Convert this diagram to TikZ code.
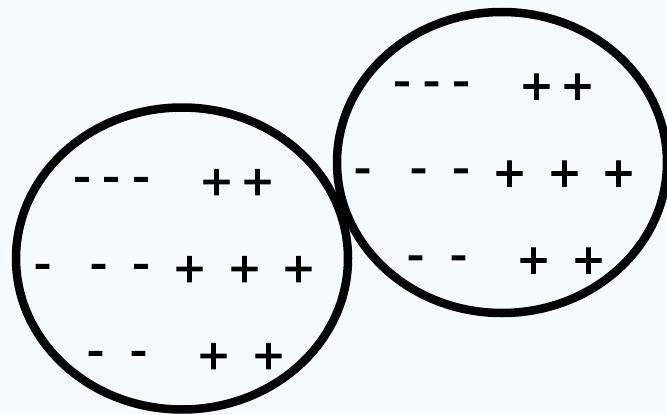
\documentclass[tikz,border=0pt]{standalone}
\usepackage{fontspec}
\setmainfont{Liberation Sans}
\newfontfamily\chargefont[FakeBold=2]{Liberation Sans}
\definecolor{bgblue}{RGB}{247,250,255}
\tikzset{
  charge/.style={inner sep=0pt, outer sep=0pt, anchor=base, font=\chargefont\fontsize{52}{56}\selectfont},
  plussign/.style={charge, yshift=-18.4pt},
  minussign/.style={charge, yshift=-12.2pt},
  blob/.style={draw=black, line width=8.5pt}
}
\begin{document}
\begin{tikzpicture}[x=1pt,y=-1pt]
\useasboundingbox (0,0) rectangle (667,415);
\fill[bgblue] (0,0) rectangle (667,415);
% ellipses
\coordinate (cl) at (182,258.5);
\coordinate (cr) at (502,162.5);
\draw[blob] (cl) ellipse [x radius=166pt, y radius=151pt];
\draw[blob] (cr) ellipse [x radius=165pt, y radius=150.5pt];
% left ellipse charges
\node[minussign] (la1) at (82,181) {-};
\node[minussign] (la2) at (111,181) {-};
\node[minussign] (la3) at (141,181) {-};
\node[plussign] (la4) at (216.5,181) {+};
\node[plussign] (la5) at (257.5,181) {+};
\node[minussign] (lb1) at (42.5,268) {-};
\node[minussign] (lb2) at (98.5,268) {-};
\node[minussign] (lb3) at (141,268) {-};
\node[plussign] (lb4) at (189.5,268) {+};
\node[plussign] (lb5) at (244.5,268) {+};
\node[plussign] (lb6) at (298.5,268) {+};
\node[minussign] (lc1) at (95.5,355) {-};
\node[minussign] (lc2) at (138.5,355) {-};
\node[plussign] (lc3) at (213.5,355) {+};
\node[plussign] (lc4) at (268.5,355) {+};
% right ellipse charges
\node[minussign] (ra1) at (402,85.5) {-};
\node[minussign] (ra2) at (431.5,85.5) {-};
\node[minussign] (ra3) at (461,85.5) {-};
\node[plussign] (ra4) at (536.5,85.5) {+};
\node[plussign] (ra5) at (577.5,85.5) {+};
\node[minussign] (rb1) at (362.5,172.5) {-};
\node[minussign] (rb2) at (418.5,172.5) {-};
\node[minussign] (rb3) at (461,172.5) {-};
\node[plussign] (rb4) at (509.5,172.5) {+};
\node[plussign] (rb5) at (564.5,172.5) {+};
\node[plussign] (rb6) at (618.5,172.5) {+};
\node[minussign] (rc1) at (415.5,259.5) {-};
\node[minussign] (rc2) at (458.5,259.5) {-};
\node[plussign] (rc3) at (533.5,259.5) {+};
\node[plussign] (rc4) at (588.5,259.5) {+};
\end{tikzpicture}
\end{document}
